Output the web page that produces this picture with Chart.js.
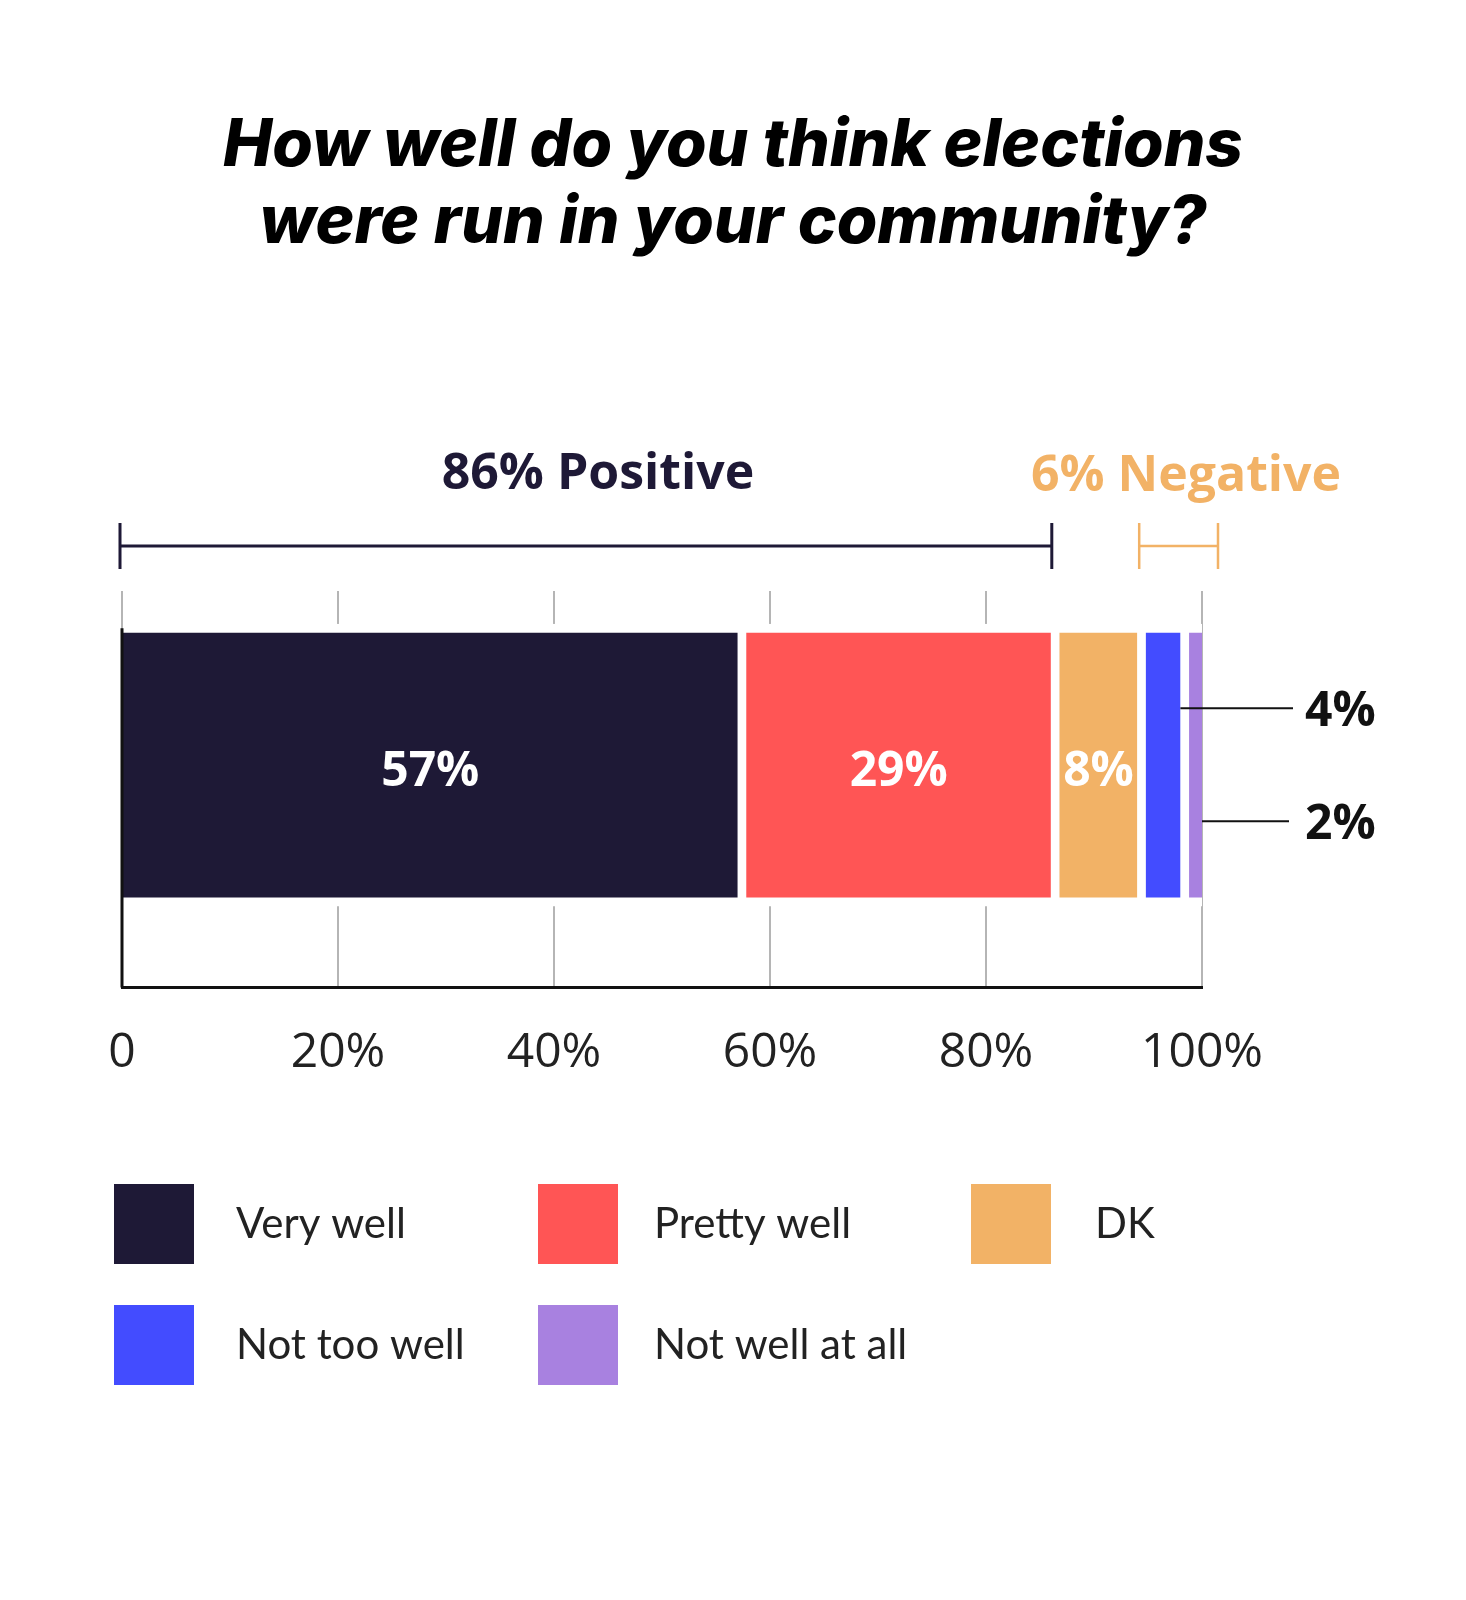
<!DOCTYPE html>
<html><head><meta charset="utf-8">
<script src="https://cdn.jsdelivr.net/npm/chart.js@4.4.0/dist/chart.umd.min.js"></script>
<style>html,body{margin:0;padding:0;background:#fff}#wrap{position:relative;width:1466px;height:1600px}</style>
</head><body><div id="wrap"><canvas id="c"></canvas></div>
<script>
const titleLines = ['How well do you think elections', 'were run in your community?'];
const categories = ['Very well', 'Pretty well', 'DK', 'Not too well', 'Not well at all'];
const values = [57, 29, 8, 4, 2];
const colors = ['#1e1936', '#ff5555', '#f2b266', '#434cff', '#a881e0'];
const tickValues = [0, 20, 40, 60, 80, 100];
const tickLabels = ['0', '20%', '40%', '60%', '80%', '100%'];
const positiveLabel = '86% Positive';
const positiveRange = [0, 86];
const negativeLabel = '6% Negative';
const negativeRange = [94, 100];

// fit title font size to reference width
const mc = document.createElement('canvas').getContext('2d');
mc.font = 'italic 800 64px Inter';
const w64 = mc.measureText(titleLines[0]).width;
const titleSize = Math.max(50, Math.min(72, 64 * 1020 / w64));

const DARK = '#1e1936';
const ORANGE = '#f2b266';

const overlay = {
  id: 'overlay',
  afterDatasetsDraw(chart) {
    const ctx = chart.ctx;
    const xs = chart.scales.x;
    const area = chart.chartArea;
    const el0 = chart.getDatasetMeta(0).data[0];
    const barTop = el0.y - el0.height / 2;
    ctx.save();
    // left axis line over bar height
    ctx.strokeStyle = '#111';
    ctx.lineWidth = 3;
    ctx.beginPath();
    ctx.moveTo(xs.getPixelForValue(0), barTop + 4);
    ctx.lineTo(xs.getPixelForValue(0), area.bottom);
    ctx.stroke();
    // labels inside bars
    ctx.font = 'bold 48px "Open Sans"';
    ctx.fillStyle = '#fff';
    ctx.textAlign = 'center';
    ctx.textBaseline = 'alphabetic';
    chart.data.datasets.forEach((ds, i) => {
      if (values[i] < 8) return;
      const el = chart.getDatasetMeta(i).data[0];
      const left = el.base + (i ? 9 : 0);
      ctx.fillText(values[i] + '%', (left + el.x) / 2, el.y + 21);
    });
    // callouts for small segments
    ctx.strokeStyle = '#111';
    ctx.lineWidth = 2;
    ctx.fillStyle = '#111';
    ctx.textAlign = 'left';
    const callY = [barTop + 84, barTop + 197];
    const callEnd = [1293, 1289];
    [3, 4].forEach((di, k) => {
      const el = chart.getDatasetMeta(di).data[0];
      ctx.beginPath();
      ctx.moveTo(el.x, callY[k]);
      ctx.lineTo(callEnd[k], callY[k]);
      ctx.stroke();
      ctx.fillText(values[di] + '%', 1305, callY[k] + 18);
    });
    // brackets
    const bY = 546;
    ctx.strokeStyle = DARK;
    ctx.lineWidth = 3;
    let a = xs.getPixelForValue(positiveRange[0]) - 2, b = xs.getPixelForValue(positiveRange[1]) + 1;
    ctx.beginPath();
    ctx.moveTo(a, bY); ctx.lineTo(b, bY);
    ctx.moveTo(a, bY - 23); ctx.lineTo(a, bY + 23);
    ctx.moveTo(b, bY - 23); ctx.lineTo(b, bY + 23);
    ctx.stroke();
    ctx.strokeStyle = ORANGE;
    ctx.lineWidth = 2.5;
    a = xs.getPixelForValue(negativeRange[0]) + 2; b = xs.getPixelForValue(negativeRange[1]) + 16;
    ctx.beginPath();
    ctx.moveTo(a, bY); ctx.lineTo(b, bY);
    ctx.moveTo(a, bY - 23); ctx.lineTo(a, bY + 23);
    ctx.moveTo(b, bY - 23); ctx.lineTo(b, bY + 23);
    ctx.stroke();
    ctx.font = 'bold 50px "Open Sans"';
    ctx.textAlign = 'center';
    ctx.fillStyle = DARK;
    ctx.fillText(positiveLabel, 598, 489);
    ctx.fillStyle = ORANGE;
    ctx.fillText(negativeLabel, 1186, 491);
    // legend
    const colX = [114, 538, 971];
    const txtX = [236, 654, 1095];
    const rowY = [1184, 1305];
    ctx.font = '42px Lato';
    ctx.textAlign = 'left';
    chart.data.datasets.forEach((ds, i) => {
      const c = i % 3, r = Math.floor(i / 3);
      ctx.fillStyle = ds.backgroundColor;
      ctx.fillRect(colX[c], rowY[r], 80, 80);
      ctx.fillStyle = '#222';
      ctx.fillText(ds.label, txtX[c], rowY[r] + 54);
    });
    ctx.restore();
  }
};

new Chart(document.getElementById('c'), {
  type: 'bar',
  data: {
    datasets: categories.map((c, i) => ({
      label: c,
      data: [{ x: values[i], y: 0 }],
      backgroundColor: colors[i],
      borderColor: '#ffffff',
      borderWidth: { top: 9, bottom: 9, left: i ? 9 : 0, right: 0 },
      borderSkipped: false,
      barThickness: 282,
      stack: 's'
    }))
  },
  options: {
    indexAxis: 'y',
    responsive: true,
    maintainAspectRatio: false,
    animation: false,
    layout: { padding: { top: 0, left: 122, right: 122, bottom: 481 } },
    scales: {
      x: {
        type: 'linear', min: 0, max: 100, stacked: true, position: 'bottom',
        afterBuildTicks: (s) => { s.ticks = tickValues.map(v => ({ value: v })); },
        ticks: {
          callback: (v, i) => tickLabels[i],
          font: { family: 'Open Sans', size: 48 },
          color: '#222',
          padding: 37,
          maxRotation: 0
        },
        grid: { color: '#b5b5b5', lineWidth: 2, drawTicks: false },
        border: { color: '#111', width: 3 }
      },
      y: { type: 'linear', min: -1.34, max: 1, stacked: true, display: false },
      yr: {
        type: 'linear', position: 'right', display: true,
        grid: { display: false }, border: { display: false },
        ticks: { display: false },
        afterFit: (s) => { s.width = 142; }
      }
    },
    plugins: {
      legend: { display: false },
      tooltip: { enabled: false },
      title: {
        display: true,
        text: titleLines,
        color: '#000',
        font: { family: 'Inter', size: titleSize, weight: '800', style: 'italic', lineHeight: 77 / titleSize },
        padding: { top: 108, bottom: 329 }
      }
    }
  },
  plugins: [overlay]
});
</script>
</body></html>
